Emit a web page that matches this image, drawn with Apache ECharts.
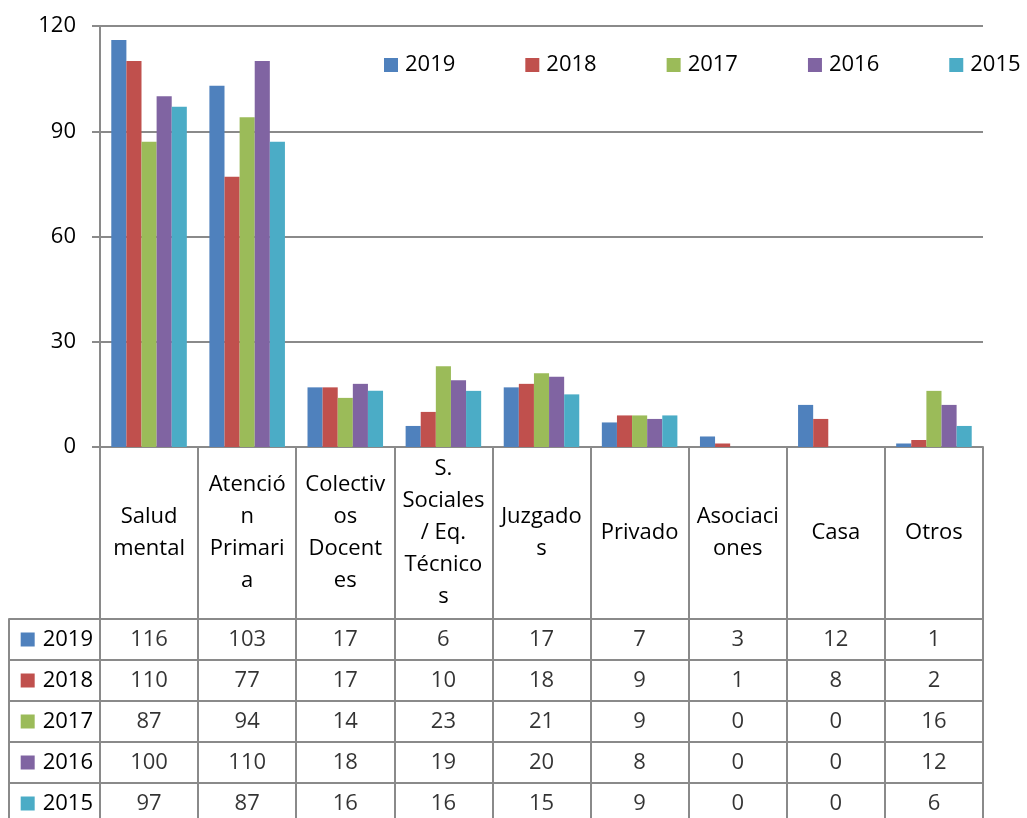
<!DOCTYPE html>
<html>
<head>
<meta charset="utf-8">
<script src="https://cdn.jsdelivr.net/npm/echarts@6.0.0/dist/echarts.min.js"></script>
<style>
  html, body { margin: 0; padding: 0; background: #fff; }
  #chart { width: 1027px; height: 818px; }
</style>
</head>
<body>
<div id="chart"></div>
<script>
const categories = ['Salud mental', 'Atención Primaria', 'Colectivos Docentes', 'S. Sociales / Eq. Técnicos', 'Juzgados', 'Privado', 'Asociaciones', 'Casa', 'Otros']
// Excel wraps the header cells mid-word, keep the same breaks
const headerLabels = ['Salud\nmental', 'Atenció\nn\nPrimari\na', 'Colectiv\nos\nDocent\nes', 'S.\nSociales\n/ Eq.\nTécnico\ns', 'Juzgado\ns', 'Privado', 'Asociaci\nones', 'Casa', 'Otros']
const years = ['2019', '2018', '2017', '2016', '2015']
const v2019 = [116, 103, 17, 6, 17, 7, 3, 12, 1]
const v2018 = [110, 77, 17, 10, 18, 9, 1, 8, 2]
const v2017 = [87, 94, 14, 23, 21, 9, 0, 0, 16]
const v2016 = [100, 110, 18, 19, 20, 8, 0, 0, 12]
const v2015 = [97, 87, 16, 16, 15, 9, 0, 0, 6]
const yTicks = [0, 30, 60, 90, 120]

const values = [v2019, v2018, v2017, v2016, v2015]
const colors = ['#4F81BD', '#C0504D', '#9BBB59', '#8064A2', '#4BACC6']
const font = "'Open Sans', sans-serif"
const gray = '#8a8a8a'

const chart = echarts.init(document.getElementById('chart'))

// rich styles for the coloured squares in the table's first column
const rich = { t: { fontSize: 22, fontFamily: font, color: '#000', padding: [0, 0, 0, 8] } }
years.forEach((y, i) => {
  rich['s' + i] = { width: 14, height: 14, backgroundColor: colors[i] }
})

const barSeries = years.map((y, i) => ({
  name: y,
  type: 'bar',
  xAxisIndex: 0,
  yAxisIndex: 0,
  data: values[i],
  barGap: '0%',
  barCategoryGap: '23%',
  itemStyle: { color: colors[i] },
}))

// table cells: [column, row, value]
const cellSeries = years.map((y, r) => ({
  type: 'scatter',
  xAxisIndex: 1,
  yAxisIndex: 1,
  symbolSize: 1,
  itemStyle: { color: 'transparent' },
  silent: true,
  data: values[r].map((v, c) => [c, r, v]),
  label: {
    show: true,
    position: 'inside',
    fontSize: 22,
    fontFamily: font,
    color: '#000',
    formatter: (p) => String(p.data[2]),
  },
}))

const option = {
  animation: false,
  color: colors,
  textStyle: { fontFamily: font },
  legend: {
    data: years,
    left: 384,
    top: 54,
    width: 700,
    padding: 0,
    icon: 'rect',
    itemWidth: 14,
    itemHeight: 14,
    itemGap: 70,
    textStyle: { fontSize: 22, fontFamily: font, color: '#000', padding: [0, 0, 0, 2] },
  },
  grid: [
    { left: 100, right: 44, top: 26, bottom: 371, outerBoundsMode: 'none' },
    {
      left: 100, right: 44, top: 619, bottom: -6, outerBoundsMode: 'none',
      show: true, borderColor: gray, borderWidth: 2, backgroundColor: 'transparent',
    },
  ],
  xAxis: [
    {
      type: 'category',
      gridIndex: 0,
      data: categories,
      axisLine: { show: true, lineStyle: { color: gray, width: 2 } },
      axisTick: { show: true, length: 172, interval: 0, lineStyle: { color: gray, width: 2 } },
      axisLabel: {
        interval: 0,
        margin: 86,
        verticalAlign: 'middle',
        lineHeight: 32,
        fontSize: 22,
        fontFamily: font,
        color: '#000',
        formatter: (v, i) => headerLabels[i],
      },
      splitLine: { show: false },
    },
    {
      type: 'category',
      gridIndex: 1,
      data: categories,
      axisLine: { show: false },
      axisTick: { show: false },
      axisLabel: { show: false },
      splitLine: { show: true, interval: 0, lineStyle: { color: gray, width: 2 } },
    },
  ],
  yAxis: [
    {
      type: 'value',
      gridIndex: 0,
      min: yTicks[0],
      max: yTicks[yTicks.length - 1],
      interval: 30,
      axisLine: { show: true, lineStyle: { color: gray, width: 2 } },
      axisTick: { show: true, length: 8, lineStyle: { color: gray, width: 2 } },
      axisLabel: { margin: 24, fontSize: 22, fontFamily: font, color: '#000' },
      splitLine: { show: true, lineStyle: { color: gray, width: 2 } },
    },
    {
      type: 'category',
      gridIndex: 1,
      data: years,
      inverse: true,
      axisLine: { show: true, lineStyle: { color: gray, width: 2 } },
      axisTick: { show: true, length: 91, interval: 0, lineStyle: { color: gray, width: 2 } },
      axisLabel: {
        margin: 7,
        interval: 0,
        formatter: (v, i) => '{s' + i + '|}{t|' + v + '}',
        rich: rich,
      },
      splitLine: { show: true, interval: 0, lineStyle: { color: gray, width: 2 } },
    },
    {
      // left border of the first table column
      type: 'category',
      gridIndex: 1,
      data: years,
      inverse: true,
      position: 'left',
      offset: 91,
      axisLine: { show: true, lineStyle: { color: gray, width: 2 } },
      axisTick: { show: false },
      axisLabel: { show: false },
      splitLine: { show: false },
    },
  ],
  series: [...barSeries, ...cellSeries],
}

chart.setOption(option)
</script>
</body>
</html>
